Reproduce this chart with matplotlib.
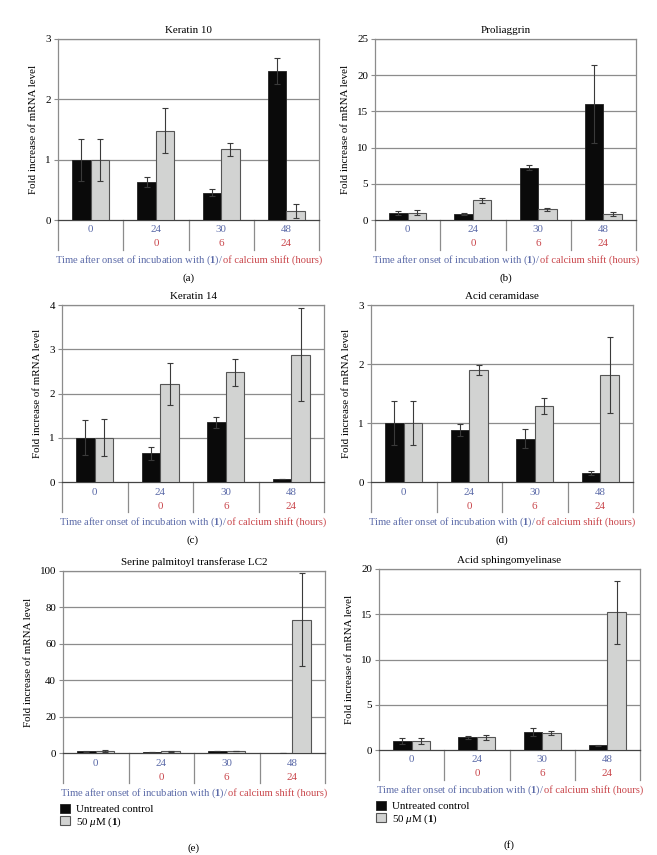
import numpy as np
import matplotlib
matplotlib.use("Agg")
import matplotlib.pyplot as plt

plt.rcParams['font.family'] = ['Liberation Serif', 'DejaVu Serif']
plt.rcParams['mathtext.fontset'] = 'custom'
plt.rcParams['mathtext.rm'] = 'Liberation Serif'
plt.rcParams['mathtext.it'] = 'Liberation Serif:italic'
plt.rcParams['mathtext.bf'] = 'Liberation Serif:bold'

# categories (hours)
cat_incub = ["0", "24", "30", "48"]
cat_calcium = ["", "0", "6", "24"]

# data
titles = ["Keratin 10", "Proliaggrin", "Keratin 14", "Acid ceramidase",
          "Serine palmitoyl transferase LC2", "Acid sphingomyelinase"]
letters = ["(a)", "(b)", "(c)", "(d)", "(e)", "(f)"]
ymax = [3, 25, 4, 3, 100, 20]
ystep = [1, 5, 1, 1, 20, 5]

ctrl = [[1.0, 0.63, 0.45, 2.47],
        [1.0, 0.8, 7.2, 16.0],
        [1.0, 0.65, 1.35, 0.07],
        [1.0, 0.88, 0.73, 0.15],
        [1.0, 0.4, 1.0, 0.0],
        [1.0, 1.4, 2.0, 0.5]]
ctrl_err = [[0.35, 0.08, 0.06, 0.21],
            [0.3, 0.1, 0.35, 5.4],
            [0.4, 0.15, 0.12, 0.0],
            [0.38, 0.1, 0.16, 0.03],
            [0.3, 0.1, 0.1, 0.0],
            [0.3, 0.15, 0.45, 0.05]]
treat = [[1.0, 1.48, 1.17, 0.15],
         [1.0, 2.7, 1.5, 0.85],
         [1.0, 2.22, 2.48, 2.88],
         [1.0, 1.9, 1.29, 1.81],
         [1.0, 1.0, 1.0, 73.3],
         [1.0, 1.4, 1.9, 15.2]]
treat_err = [[0.35, 0.37, 0.11, 0.12],
             [0.35, 0.35, 0.2, 0.3],
             [0.42, 0.48, 0.3, 1.05],
             [0.38, 0.09, 0.13, 0.64],
             [0.4, 0.3, 0.1, 25.5],
             [0.3, 0.25, 0.2, 3.45]]

W, H = 657, 855
# panel boxes in pixels: left, right, top, zero line
boxes = [(58, 319, 39, 220), (375, 636, 39, 220),
         (62, 324, 305, 482), (371, 633, 305, 482),
         (63, 325, 571, 753), (379, 640, 569, 750)]

BLUE = "#5b6aa8"
RED = "#c9464b"
GRID = "#8c8c8c"
FS = 7.9
FSX = 7.6

fig = plt.figure(figsize=(W / 100, H / 100), dpi=100)
fig.patch.set_facecolor("white")

groups = []  # xlabel pieces to centre after drawing

for k in range(6):
    l, r, t, z = boxes[k]
    ax = fig.add_axes([l / W, 1 - z / H, (r - l) / W, (z - t) / H])
    hpx = z - t
    x = np.arange(4) + 0.5
    bw = 0.285
    ax.bar(x - bw / 2, ctrl[k], bw, color="#0a0a0a", edgecolor="#222222", lw=0.6, zorder=3)
    ax.bar(x + bw / 2, treat[k], bw, color="#d2d3d2", edgecolor="#555555", lw=0.8, zorder=3)
    ax.errorbar(x - bw / 2, ctrl[k], yerr=ctrl_err[k], fmt="none", ecolor="#3a3a3a",
                elinewidth=0.8, capsize=2, capthick=0.8, zorder=4)
    ax.errorbar(x + bw / 2, treat[k], yerr=treat_err[k], fmt="none", ecolor="#3a3a3a",
                elinewidth=0.8, capsize=2, capthick=0.8, zorder=4)
    ax.set_xlim(0, 4)
    ax.set_ylim(0, ymax[k])
    ticks = np.arange(0, ymax[k] + ystep[k] / 2, ystep[k])
    ax.set_yticks(ticks)
    ax.set_yticklabels([str(int(v)) for v in ticks], fontsize=FS)
    ax.set_xticks([])
    for v in ticks[1:]:
        ax.axhline(v, color=GRID, lw=0.9, zorder=1)
    for s in ["left", "right", "top"]:
        ax.spines[s].set_color(GRID)
        ax.spines[s].set_linewidth(0.9)
    ax.spines["bottom"].set_color("#444444")
    ax.spines["bottom"].set_linewidth(0.9)
    ax.tick_params(axis="y", length=3, width=0.8, color=GRID, pad=2)
    ax.set_title(titles[k], fontsize=FS, pad=4)
    ax.set_ylabel("Fold increase of mRNA level", fontsize=FS, labelpad=5)

    # category table under the axis
    depth = -30 / hpx
    tr = ax.get_xaxis_transform()
    for xs in range(5):
        ax.plot([xs, xs], [0, depth], color=GRID, lw=0.9, transform=tr, clip_on=False)
    for i in range(4):
        ax.text(x[i], -10 / hpx, cat_incub[i], color=BLUE, fontsize=FS, ha="center",
                va="center", transform=tr)
        ax.text(x[i], -24 / hpx, cat_calcium[i], color=RED, fontsize=FS, ha="center",
                va="center", transform=tr)

    # two-colour x label
    parts = [(r"Time after onset of incubation with ($\mathbf{1}$)/", BLUE),
             ("of calcium shift (hours)", RED)]
    ylab = 1 - (z + 40) / H
    pieces = [fig.text(0, ylab, txt, color=col, fontsize=FSX, va="center", ha="left")
              for txt, col in parts]
    groups.append((pieces, (l + r) / 2 / W))

    # panel letter
    yl = z + 58 if k < 4 else z + 95
    fig.text((l + r) / 2 / W, 1 - yl / H, letters[k], fontsize=FS, ha="center", va="center")

    if k >= 4:
        h1 = plt.Rectangle((0, 0), 1, 1, fc="#0a0a0a", ec="#222222", lw=0.6)
        h2 = plt.Rectangle((0, 0), 1, 1, fc="#d2d3d2", ec="#555555", lw=0.8)
        ax.legend([h1, h2], ["Untreated control", r"50 $\mathit{\mu}$M ($\mathbf{1}$)"],
                  loc="upper left", bbox_to_anchor=(-3 / (r - l), -51 / hpx),
                  frameon=False, fontsize=FS, handlelength=0.9, handleheight=0.9,
                  handletextpad=0.6, labelspacing=0.1, borderaxespad=0, borderpad=0)

# lay out the xlabel pieces side by side, centred under each panel
fig.canvas.draw()
ren = fig.canvas.get_renderer()
for pieces, cx in groups:
    widths = [p.get_window_extent(ren).width / W for p in pieces]
    x0 = cx - sum(widths) / 2
    for p, w in zip(pieces, widths):
        p.set_x(x0)
        x0 += w

fig.savefig("out.png", dpi=100)
